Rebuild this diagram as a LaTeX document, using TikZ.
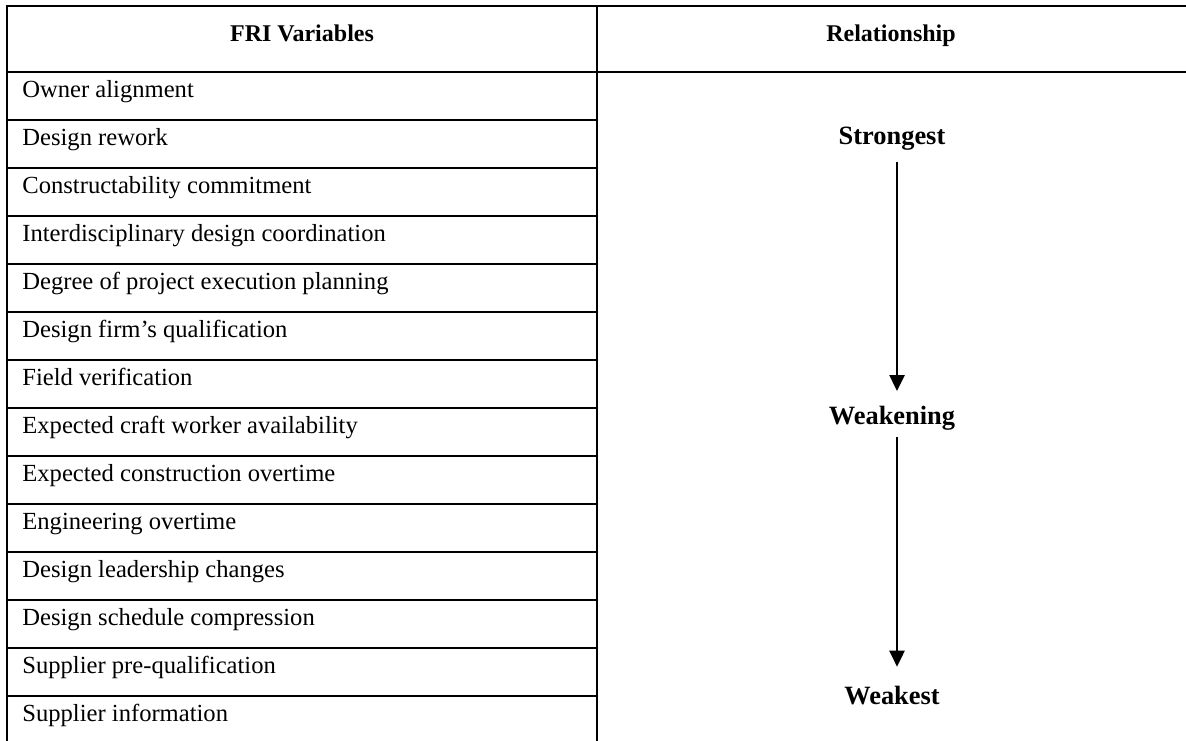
\documentclass[tikz,border=0pt]{standalone}
\usepackage{fontspec}
\setmainfont{Liberation Serif}
\usetikzlibrary{arrows.meta,calc}
\begin{document}
\begin{tikzpicture}[x=0.5pt,y=-0.5pt,
  rule/.style={line width=1pt,line cap=rect},
  headtxt/.style={anchor=base,inner sep=0pt,font=\fontsize{12pt}{14pt}\selectfont\bfseries},
  celltxt/.style={anchor=base west,inner sep=0pt,font=\fontsize{12.3pt}{14pt}\selectfont},
  scaletxt/.style={anchor=base,inner sep=0pt,font=\fontsize{13.2pt}{15pt}\selectfont\bfseries},
  arr/.style={line width=1.25pt,-{Triangle[length=8pt,width=7.5pt]}}]
\useasboundingbox (0,0) rectangle (1186,740);
\fill[white] (0,0) rectangle (1186,740);

% table rules
\draw[rule] (6.5,6) -- (1186,6);
\draw[rule] (6.5,72) -- (1186,72);
\draw[rule] (6.5,6) -- (6.5,742);
\draw[rule] (597,6) -- (597,742);
\foreach \k in {0,...,12}{
  \draw[rule] (6.5,{120+48*\k}) -- (597,{120+48*\k});
}

% header
\node[headtxt] (h1) at (302,41) {FRI Variables};
\node[headtxt] (h2) at (891,41) {Relationship};

% variables column
\foreach [count=\i from 0] \t/\n in {
  Owner alignment/v0,
  Design rework/v1,
  Constructability commitment/v2,
  Interdisciplinary design coordination/v3,
  Degree of project execution planning/v4,
  Design firm’s qualification/v5,
  Field verification/v6,
  Expected craft worker availability/v7,
  Expected construction overtime/v8,
  Engineering overtime/v9,
  Design leadership changes/v10,
  Design schedule compression/v11,
  Supplier pre-qualification/v12,
  Supplier information/v13}{
  \node[celltxt] (\n) at (22,{97+48*\i}) {\t};
}

% relationship scale
\node[scaletxt] (strong) at (892,144) {Strongest};
\node[scaletxt] (weakening) at (892,424) {Weakening};
\node[scaletxt] (weak) at (892,704) {Weakest};

\draw[arr] ($(strong.base)+(5,17.7)$) -- ($(weakening.base)+(5,-33)$);
\draw[arr] ($(weakening.base)+(5,13)$) -- ($(weak.base)+(5,-37.3)$);
\end{tikzpicture}
\end{document}
